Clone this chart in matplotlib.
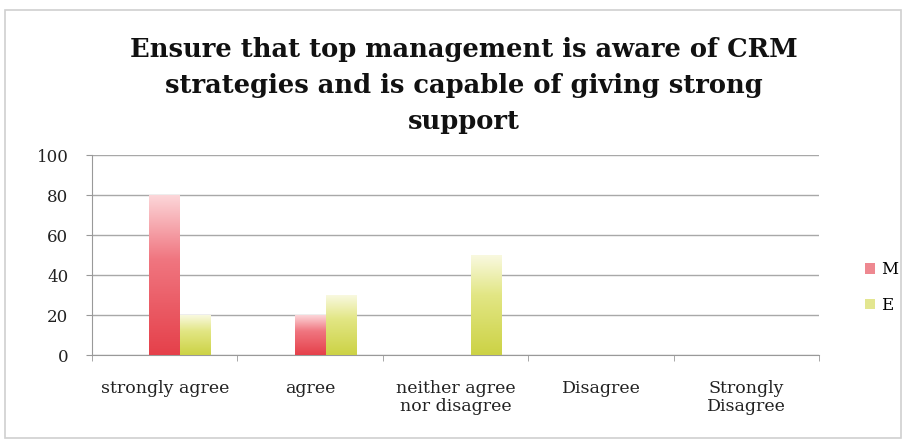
import numpy as np
import matplotlib.pyplot as plt
from matplotlib.colors import LinearSegmentedColormap
from matplotlib.patches import Rectangle, Patch

categories = ['strongly agree', 'agree', 'neither agree\nnor disagree', 'Disagree', 'Strongly\nDisagree']
m_values = [80, 20, 0, 0, 0]
e_values = [20, 30, 50, 0, 0]
yticks = [0, 20, 40, 60, 80, 100]
title = 'Ensure that top management is aware of CRM\nstrategies and is capable of giving strong\nsupport'

m_cmap = LinearSegmentedColormap.from_list('m', [(0, '#e5404a'), (0.6, '#f07680'), (1, '#fcd6d9')])
e_cmap = LinearSegmentedColormap.from_list('e', [(0, '#ccd245'), (0.6, '#e2e684'), (1, '#f9f9e0')])

fig = plt.figure(figsize=(9.06, 4.41), dpi=100)
fig.patches.append(Rectangle((0.006, 0.007), 0.988, 0.97, transform=fig.transFigure,
                             fill=False, edgecolor='#d0d0d0', linewidth=1.2))

ax = fig.add_axes([0.1015, 0.195, 0.803, 0.4535])
x = np.arange(len(categories))
w = 0.213

grad = np.linspace(0, 1, 256).reshape(-1, 1)

def gradient_bars(xs, vals, cmap):
    bars = ax.bar(xs, vals, width=w, color='none', edgecolor='none', zorder=3)
    for b in bars:
        h = b.get_height()
        if h <= 0:
            continue
        x0 = b.get_x()
        ax.imshow(grad, extent=[x0, x0 + w, 0, h], origin='lower', aspect='auto',
                  cmap=cmap, zorder=3, interpolation='bicubic')
    return bars

gradient_bars(x, m_values, m_cmap)
gradient_bars(x + w, e_values, e_cmap)

ax.set_xlim(-0.5, len(categories) - 0.5)
ax.set_ylim(0, 100)
ax.set_yticks(yticks)
ax.set_xticks(x)
ax.set_xticklabels(categories, fontsize=12.5, family='DejaVu Serif', color='#222222',
                   va='top', linespacing=1.05)
ax.set_xticks(np.arange(-0.5, len(categories)), minor=True)
ax.tick_params(axis='x', which='major', length=0, pad=18)
ax.tick_params(axis='x', which='minor', length=4, color='#999999')
ax.tick_params(axis='y', length=4, color='#999999', labelsize=12, pad=13)
for lab in ax.get_yticklabels():
    lab.set_family('DejaVu Serif')
    lab.set_color('#222222')
ax.grid(axis='y', color='#a8a8a8', linewidth=1.0, zorder=0)
ax.set_axisbelow(True)
for s in ['top', 'right']:
    ax.spines[s].set_visible(False)
for s in ['left', 'bottom']:
    ax.spines[s].set_color('#999999')

handles = [Patch(facecolor='#ee8890', label='M'), Patch(facecolor='#e3e690', label='E')]
fig.legend(handles=handles, loc='center left', bbox_to_anchor=(0.938, 0.348), frameon=False,
           handlelength=0.6, handleheight=0.6, handletextpad=0.4, labelspacing=1.1,
           prop={'family': 'DejaVu Serif', 'size': 12})

fig.text(0.512, 0.805, title, ha='center', va='center', fontsize=18.5, fontweight='bold',
         family='DejaVu Serif', linespacing=1.55, color='#111111')

fig.savefig('out.png', dpi=100)
